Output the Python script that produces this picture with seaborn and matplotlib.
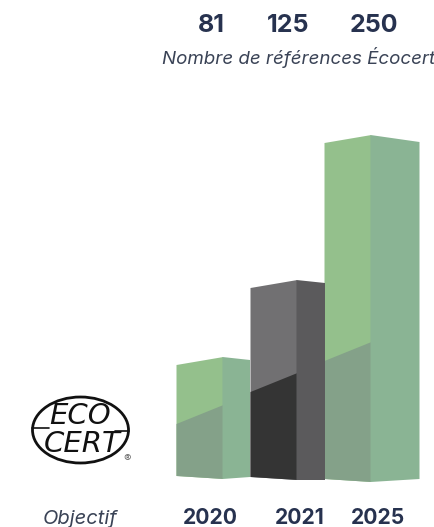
import seaborn as sns
import matplotlib.pyplot as plt
from matplotlib.patches import Ellipse, Polygon
from matplotlib.transforms import Affine2D

years = ['2020', '2021', '2025']
references = ['81', '125', '250']
# heights (drawing is not to scale with the numbers)
bar_heights = [122, 200, 347]
dark_heights = [74, 107, 140]
bar_bases = [3, 2, 0]

front_colors = ['#94C08C', '#717072', '#94C08C']
side_colors = ['#8AB494', '#5B5A5C', '#8AB494']
dark_colors = ['#84A189', '#343434', '#84A189']
navy = '#27324F'
grey_navy = '#3A4356'

sns.set_theme(style='white')
plt.rcParams['font.family'] = ['Inter', 'DejaVu Sans']

fig = plt.figure(figsize=(4.35, 5.27), dpi=100)
ax = fig.add_axes([0, 0, 1, 1])

unit = 74
bar_w = 47 / unit
sns.barplot(x=years, y=bar_heights, hue=years, palette=front_colors, width=bar_w,
            saturation=1, linewidth=0, legend=False, ax=ax)
sns.barplot(x=years, y=dark_heights, hue=years, palette=dark_colors, width=bar_w,
            saturation=1, linewidth=0, legend=False, ax=ax)

ax.set_xlim(-200 / unit, 235 / unit)
ax.set_ylim(-45, 482)
ax.axis('off')

side_w = [26.5 / unit, 27.5 / unit, 48 / unit]
rise_left = [8, 8, 8]
drop_right = [3, 3, 7]
base_left = [3, 3, 3]
base_right = [2, 0, 3]
slant = 19
seam = 1 / unit  # side face starts a bit under the front to hide the white hairline

bars = list(ax.patches)
n = len(years)
for i in range(n):
    front, dark = bars[i], bars[i + n]
    x0 = front.get_x()
    x1 = x0 + front.get_width()
    x2 = x1 + side_w[i]
    base = bar_bases[i]
    top = front.get_height() + base
    front.set_y(base)
    dark.set_y(base)
    # slanted top and bottom of the box, the barplot rectangles get clipped to it
    shape = Polygon([(x0, base + base_left[i]), (x1, base), (x1, top), (x0, top - rise_left[i])],
                    transform=ax.transData)
    front.set_clip_path(shape)
    dark_top = dark.get_height() + base
    dark_shape = Polygon([(x0, base + base_left[i]), (x1, base), (x1, dark_top), (x0, dark_top - slant)],
                         transform=ax.transData)
    dark.set_clip_path(dark_shape)
    ax.fill([x1 - seam, x2, x2, x1 - seam],
            [base, base + base_right[i], top - drop_right[i], top],
            color=side_colors[i], lw=0, zorder=3)

# text and logo are placed in pixels of the picture
px = Affine2D().scale(1, -1).translate(0, 527)

for label, x in zip(references, [211, 288, 374]):
    ax.text(x, 25, label, transform=px, ha='center', va='center', fontsize=18, fontweight='bold', color=navy)
ax.text(435, 57, 'Nombre de références Écocert', transform=px, ha='right', va='center',
        fontsize=13.5, fontstyle='italic', color=grey_navy)
for label, x in zip(years, [210, 300, 378]):
    ax.text(x, 518, label, transform=px, ha='center', va='center', fontsize=15.2, fontweight='bold', color=navy)
ax.text(80.5, 519, 'Objectif', transform=px, ha='center', va='center',
        fontsize=14.5, fontstyle='italic', color=grey_navy)

ax.add_patch(Ellipse((80.5, 430), 96, 66, transform=px, fill=False, ec='#111111', lw=2, clip_on=False))
ax.plot([32, 49], [428, 428], transform=px, color='#111111', lw=1.2)
ax.plot([115, 129], [431, 431], transform=px, color='#111111', lw=1.2)
ax.text(80, 416, 'ECO', transform=px, ha='center', va='center', fontsize=21, fontstyle='italic',
        family='Liberation Sans Narrow', color='#111111')
ax.text(82, 444, 'CERT', transform=px, ha='center', va='center', fontsize=21, fontstyle='italic',
        family='Liberation Sans Narrow', color='#111111')
ax.text(123, 459, '®', transform=px, ha='left', va='center', fontsize=8, color='#666666')

fig.savefig('out.png', dpi=100)
